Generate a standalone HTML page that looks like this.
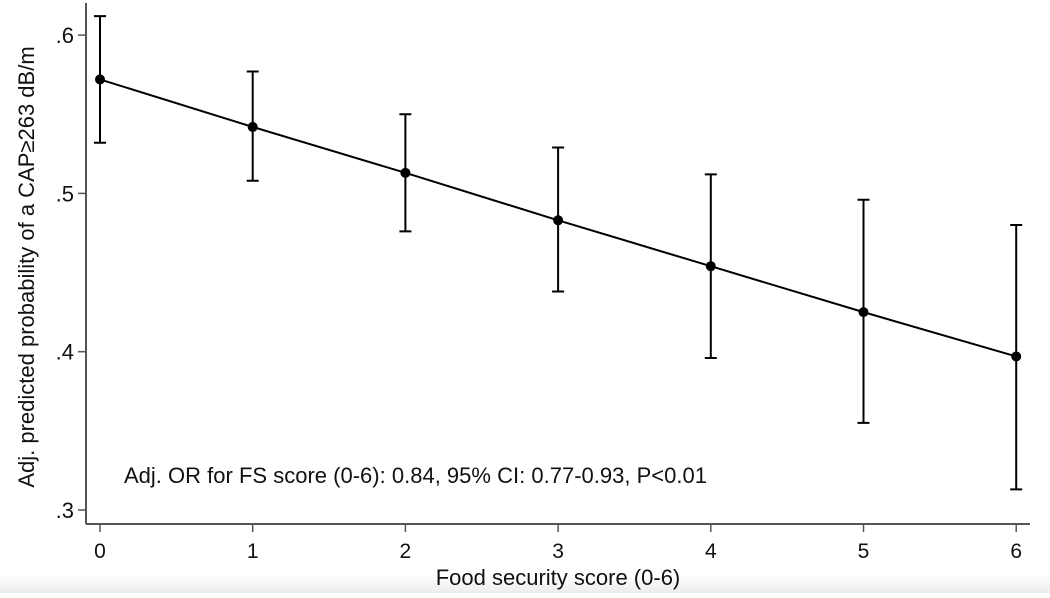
<!DOCTYPE html>
<html><head><meta charset="utf-8"><style>
body{margin:0;background:#fff;width:1050px;height:593px;overflow:hidden;}
svg text{font-family:"Liberation Sans",Arial,sans-serif;fill:#111;}
</style></head><body>
<svg id="chart" width="1050" height="593" xmlns="http://www.w3.org/2000/svg">
<defs><linearGradient id="bg" x1="0" y1="0" x2="0" y2="1"><stop offset="0" stop-color="#fff"/><stop offset="1" stop-color="#ececec"/></linearGradient></defs>
<rect x="0" y="575" width="1050" height="18" fill="url(#bg)"/>
<g id="plot"></g>
</svg>
<script>
const categories=[0,1,2,3,4,5,6];
const estimates=[0.572,0.542,0.513,0.483,0.454,0.425,0.397];
const lowerCI=[0.532,0.508,0.476,0.438,0.396,0.355,0.313];
const upperCI=[0.612,0.577,0.550,0.529,0.512,0.496,0.480];
const yTicks=[0.3,0.4,0.5,0.6];
const yTickLabels=[".3",".4",".5",".6"];
const NS="http://www.w3.org/2000/svg";
const g=document.getElementById('plot');
const X=v=>100+v*152.7;
const Y=v=>510-(v-0.3)*1583;
function el(t,a,p){const e=document.createElementNS(NS,t);for(const k in a)e.setAttribute(k,a[k]);(p||g).appendChild(e);return e;}
let e;
e=el('line',{x1:86,y1:3,x2:86,y2:524,stroke:'#555','stroke-width':2});


e=el('line',{x1:86,y1:524,x2:1030,y2:524,stroke:'#555','stroke-width':2});


yTicks.forEach((t,i)=>{
 e=el('line',{x1:78,y1:Y(t),x2:86,y2:Y(t),stroke:'#555','stroke-width':1.5});
 
 
 e=el('text',{x:74,y:Y(t)+8,'text-anchor':'end','font-size':22});
 e.textContent=yTickLabels[i];
 
 
});
categories.forEach(c=>{
 e=el('line',{x1:X(c),y1:524,x2:X(c),y2:532,stroke:'#555','stroke-width':1.5});
 
 
 e=el('text',{x:X(c),y:558,'text-anchor':'middle','font-size':21});
 e.textContent=String(c);
 
 
});
categories.forEach((c,i)=>{
 const x=X(c);
 e=el('path',{d:`M${x},${Y(lowerCI[i])}V${Y(upperCI[i])}M${x-6},${Y(lowerCI[i])}h12M${x-6},${Y(upperCI[i])}h12`,stroke:'#000','stroke-width':2,fill:'none'});
 
 
});
e=el('polyline',{points:categories.map((c,i)=>X(c)+','+Y(estimates[i])).join(' '),fill:'none',stroke:'#000','stroke-width':2});


categories.forEach((c,i)=>{
 e=el('circle',{cx:X(c),cy:Y(estimates[i]),r:5,fill:'#000'});
 
 
});
e=el('text',{x:124,y:483,'font-size':22,textLength:583});
e.textContent='Adj. OR for FS score (0-6): 0.84, 95% CI: 0.77-0.93, P<0.01';


e=el('text',{x:558,y:585,'text-anchor':'middle','font-size':22});
e.textContent='Food security score (0-6)';


e=el('text',{x:0,y:0,'text-anchor':'middle','font-size':22,transform:'translate(34,267) rotate(-90)'});
e.textContent='Adj. predicted probability of a CAP≥263 dB/m';


</script>
</body></html>
